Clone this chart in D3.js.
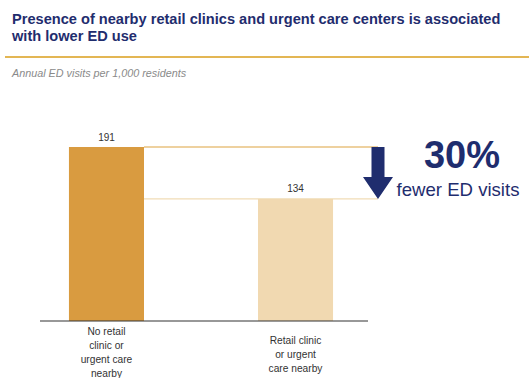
<!DOCTYPE html>
<html>
<head>
<meta charset="utf-8">
<script src="https://cdn.jsdelivr.net/npm/d3@7"></script>
<style>
  body { margin: 0; background: #fff; }
  svg { display: block; font-family: "Liberation Sans", Arial, sans-serif; }
</style>
</head>
<body>
<div id="chart"></div>
<script>
// chart data
const categories = ['No retail clinic or urgent care nearby', 'Retail clinic or urgent care nearby'];
const categoryLines = [['No retail', 'clinic or', 'urgent care', 'nearby'], ['Retail clinic', 'or urgent', 'care nearby']];
const values = [191, 134];
const barColors = ['#d99b40', '#f1d9b1'];
const titleLines = ['Presence of nearby retail clinics and urgent care centers is associated', 'with lower ED use'];
const subtitle = 'Annual ED visits per 1,000 residents';
const callout = ['30%', 'fewer ED visits'];

const width = 529, height = 378;
const navy = '#1f2d6e';

const svg = d3.select('#chart').append('svg')
	.attr('width', width)
	.attr('height', height);

// title
svg.append('g').selectAll('text')
	.data(titleLines)
	.enter().append('text')
		.attr('x', 12)
		.attr('y', (d, i) => 24 + i * 16.5)
		.attr('fill', navy)
		.attr('font-size', 14.6)
		.attr('font-weight', 'bold')
		.text(d => d);

svg.append('line')
	.attr('x1', 5).attr('x2', width)
	.attr('y1', 57).attr('y2', 57)
	.attr('stroke', '#e3b654')
	.attr('stroke-width', 2.2);

svg.append('text')
	.attr('x', 12)
	.attr('y', 77)
	.attr('fill', '#8a8a8a')
	.attr('font-size', 10.8)
	.attr('font-style', 'italic')
	.text(subtitle);

// scales
const x = d3.scaleBand()
	.domain(categories)
	.range([40, 368])
	.paddingInner(0.603)
	.paddingOuter(0.169)
	.align(0.453);

const y = d3.scaleLinear()
	.domain([0, d3.max(values)])
	.range([321, 147]);

const data = categories.map((c, i) => ({cat: c, value: values[i], lines: categoryLines[i], color: barColors[i]}));

// reference lines from bar tops to arrow
svg.append('g').selectAll('line')
	.data(data)
	.enter().append('line')
		.attr('x1', x(categories[0]) + x.bandwidth())
		.attr('x2', 378)
		.attr('y1', d => y(d.value))
		.attr('y2', d => y(d.value))
		.attr('stroke', (d, i) => i === 0 ? '#e9c27f' : '#f1dcb6')
		.attr('stroke-width', 1.3);

// bars
svg.append('g').selectAll('rect')
	.data(data)
	.enter().append('rect')
		.attr('x', d => x(d.cat))
		.attr('y', d => y(d.value))
		.attr('width', x.bandwidth())
		.attr('height', d => y(0) - y(d.value))
		.attr('fill', d => d.color);

// value labels
svg.append('g').selectAll('text')
	.data(data)
	.enter().append('text')
		.attr('x', d => x(d.cat) + x.bandwidth() / 2)
		.attr('y', d => y(d.value) - 6.5)
		.attr('text-anchor', 'middle')
		.attr('font-size', 10)
		.attr('fill', '#333')
		.text(d => d.value);

// baseline
svg.append('line')
	.attr('x1', 40).attr('x2', 368)
	.attr('y1', y(0)).attr('y2', y(0))
	.attr('stroke', '#333')
	.attr('stroke-width', 1.2);

// category labels
const catG = svg.append('g').selectAll('text')
	.data(data)
	.enter().append('text')
		.attr('text-anchor', 'middle')
		.attr('font-size', 10.2)
		.attr('fill', '#333')
		.attr('transform', (d, i) => 'translate(' + (x(d.cat) + x.bandwidth() / 2) + ',' + (y(0) + 14 + (4 - d.lines.length) * 8.5) + ')');
catG.selectAll('tspan')
	.data(d => d.lines)
	.enter().append('tspan')
		.attr('x', 0)
		.attr('dy', (d, i) => i === 0 ? 0 : 14)
		.text(d => d);

// arrow from top value to lower value
const ax = 378, yTop = y(values[0]), yBot = y(values[1]);
const arrow = [[ax - 6.5, yTop], [ax + 6.5, yTop], [ax + 6.5, yBot - 22], [ax + 15, yBot - 22], [ax, yBot], [ax - 15, yBot - 22], [ax - 6.5, yBot - 22]];
svg.append('path')
	.attr('d', d3.line()(arrow) + 'Z')
	.attr('fill', navy);

svg.append('text')
	.attr('x', 462)
	.attr('y', 168)
	.attr('text-anchor', 'middle')
	.attr('font-size', 38)
	.attr('font-weight', 'bold')
	.attr('fill', navy)
	.text(callout[0]);

svg.append('text')
	.attr('x', 458)
	.attr('y', 196)
	.attr('text-anchor', 'middle')
	.attr('font-size', 18.6)
	.attr('fill', navy)
	.text(callout[1]);
</script>
</body>
</html>
